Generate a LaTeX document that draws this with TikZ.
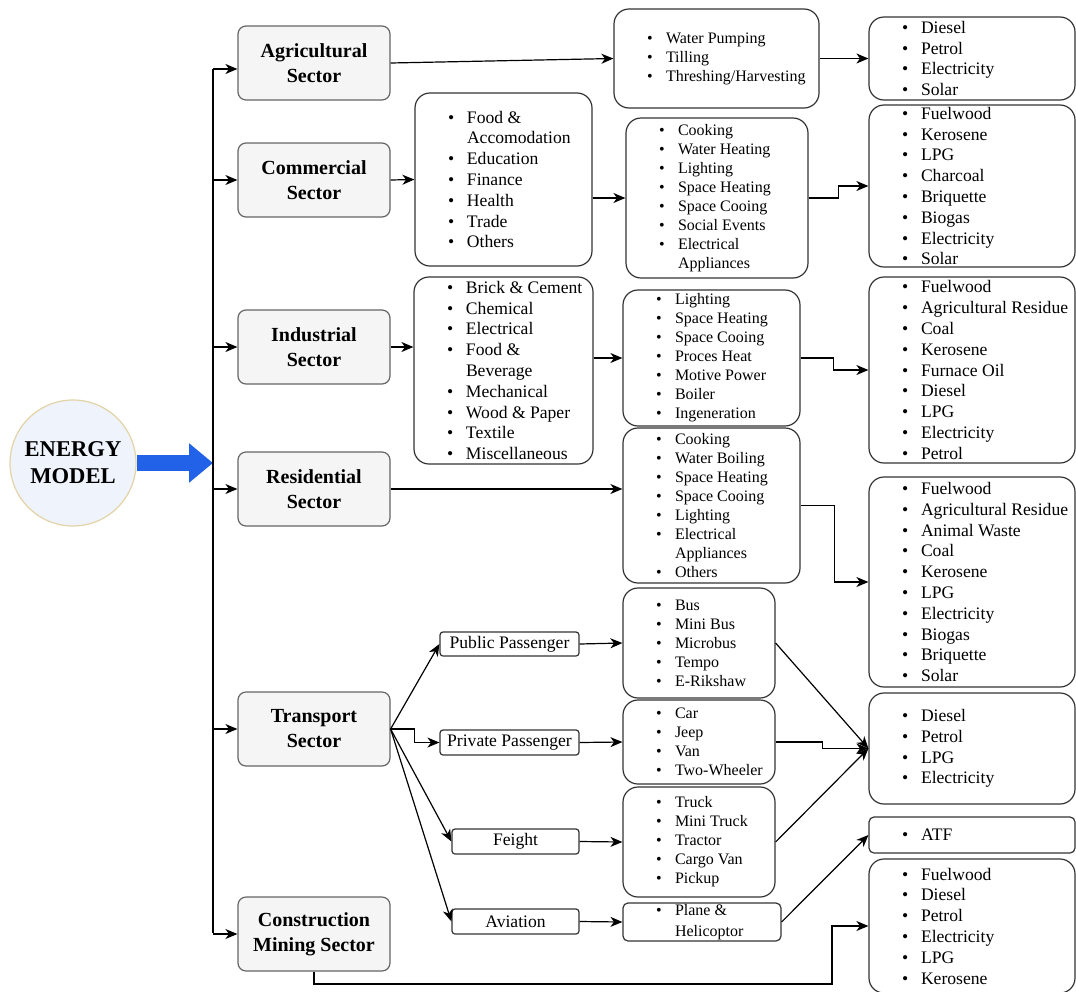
\documentclass[tikz,border=0pt]{standalone}
\usepackage{fontspec}
\setmainfont{Liberation Serif}
\usepackage{xcolor}
\usetikzlibrary{arrows.meta,positioning}
\definecolor{secfill}{HTML}{F5F5F5}
\definecolor{secline}{HTML}{666666}
\definecolor{modfill}{HTML}{EEF3FC}
\definecolor{modline}{HTML}{E3D3A6}
\definecolor{bigblue}{HTML}{2262E8}
\newcommand{\itm}{\makebox[9.5pt][l]{\textbullet}}
\newcommand{\itn}{\hspace*{9.5pt}}

\begin{document}
\begin{tikzpicture}[
				x=0.5pt, y=-0.5pt,
				line width=0.6pt,
				node distance=16.5pt,
				arrow/.style={-{Stealth[length=6pt, width=5pt, inset=1.8pt]}},
				sector/.style={draw=secline, fill=secfill, rounded corners=4pt, minimum width=76pt, minimum height=37pt, align=center, font=\fontsize{10}{12.5}\selectfont\bfseries},
				listbox/.style={draw=black!80, rounded corners=7.5pt},
				smallbox/.style={draw=black!80, rounded corners=2.5pt},
				listtext/.style={inner sep=0pt, align=left, font=\fontsize{8}{9.5}\selectfont},
				widetext/.style={inner sep=0pt, align=left, font=\fontsize{8.8}{10.4}\selectfont},
				labelbox/.style={draw=black!80, rounded corners=1.5pt, inner sep=0pt, font=\fontsize{8.8}{10}\selectfont}
				]
				
				\useasboundingbox (0,0) rectangle (1076,991);
				
				\node[circle, draw=modline, fill=modfill, minimum size=63pt, align=center, font=\fontsize{11.3}{13.5}\selectfont\bfseries] (em) at (73,463) {ENERGY\\MODEL};
				
				\node[sector] (agr) at (314,63) {Agricultural\\Sector};
				\node[sector] (com) at (314,180) {Commercial\\Sector};
				\node[sector] (ind) at (314,347) {Industrial\\Sector};
				\node[sector] (res) at (314,489) {Residential\\Sector};
				\node[sector] (tra) at (314,729) {Transport\\Sector};
				\node[sector] (con) at (314,934) {Construction\\Mining Sector};
				
				\node[listbox, minimum width=88.5pt, minimum height=86.5pt] (csub) at (503.5,179.5) {};
				\node[widetext, right=of csub.west] (csubt) {\itm Food \&\\\itn Accomodation\\\itm Education\\\itm Finance\\\itm Health\\\itm Trade\\\itm Others};
				\node[listbox, minimum width=89.5pt, minimum height=93.5pt] (isub) at (503.5,370.5) {};
				\node[widetext, right=of isub.west] (isubt) {\itm Brick \& Cement\\\itm Chemical\\\itm Electrical\\\itm Food \&\\\itn Beverage\\\itm Mechanical\\\itm Wood \& Paper\\\itm Textile\\\itm Miscellaneous};
				
				\node[listbox, minimum width=102.5pt, minimum height=49.5pt] (aeu) at (716.5,58.5) {};
				\node[listtext, right=of aeu.west] (aeut) {\itm Water Pumping\\\itm Tilling\\\itm Threshing/Harvesting};
				\node[listbox, minimum width=91pt, minimum height=80pt] (ceu) at (717,198) {};
				\node[listtext, right=of ceu.west] (ceut) {\itm Cooking\\\itm Water Heating\\\itm Lighting\\\itm Space Heating\\\itm Space Cooing\\\itm Social Events\\\itm Electrical\\\itn Appliances};
				\node[listbox, minimum width=88.5pt, minimum height=68pt] (ieu) at (711.5,358) {};
				\node[listtext, right=of ieu.west] (ieut) {\itm Lighting\\\itm Space Heating\\\itm Space Cooing\\\itm Proces Heat\\\itm Motive Power\\\itm Boiler\\\itm Ingeneration};
				\node[listbox, minimum width=88.5pt, minimum height=77.5pt] (reu) at (711.5,505.5) {};
				\node[listtext, right=of reu.west] (reut) {\itm Cooking\\\itm Water Boiling\\\itm Space Heating\\\itm Space Cooing\\\itm Lighting\\\itm Electrical\\\itn Appliances\\\itm Others};
				
				\node[labelbox, minimum width=69.5pt, minimum height=12pt] (pub) at (509.5,644) {Public Passenger};
				\node[labelbox, minimum width=69.5pt, minimum height=12.5pt] (pri) at (509.5,742.5) {Private Passenger};
				\node[labelbox, minimum width=63.5pt, minimum height=12.5pt] (fre) at (515.5,841.5) {Feight};
				\node[labelbox, minimum width=63.5pt, minimum height=12.5pt] (avi) at (515.5,921.5) {Aviation};
				
				\node[listbox, minimum width=76pt, minimum height=55pt] (pveh) at (699,643) {};
				\node[listtext, right=of pveh.west] (pveht) {\itm Bus\\\itm Mini Bus\\\itm Microbus\\\itm Tempo\\\itm E-Rikshaw};
				\node[listbox, minimum width=76pt, minimum height=42pt] (prveh) at (699,742) {};
				\node[listtext, right=of prveh.west] (prveht) {\itm Car\\\itm Jeep\\\itm Van\\\itm Two-Wheeler};
				\node[listbox, minimum width=76pt, minimum height=55pt] (fveh) at (699,842) {};
				\node[listtext, right=of fveh.west] (fveht) {\itm Truck\\\itm Mini Truck\\\itm Tractor\\\itm Cargo Van\\\itm Pickup};
				\node[smallbox, minimum width=79pt, minimum height=19pt] (aveh) at (702,922) {};
				\node[widetext, font=\fontsize{8}{10.5}\selectfont, right=of aveh.west] (aveht) {\itm Plane \&\\\itn Helicoptor};
				
				\node[listbox, minimum width=103pt, minimum height=41.5pt] (afu) at (972,58.5) {};
				\node[widetext, right=of afu.west] (afut) {\itm Diesel\\\itm Petrol\\\itm Electricity\\\itm Solar};
				\node[listbox, minimum width=103pt, minimum height=81pt] (cfu) at (972,186) {};
				\node[widetext, right=of cfu.west] (cfut) {\itm Fuelwood\\\itm Kerosene\\\itm LPG\\\itm Charcoal\\\itm Briquette\\\itm Biogas\\\itm Electricity\\\itm Solar};
				\node[listbox, minimum width=103pt, minimum height=93pt] (ifu) at (972,370) {};
				\node[widetext, right=of ifu.west] (ifut) {\itm Fuelwood\\\itm Agricultural Residue\\\itm Coal\\\itm Kerosene\\\itm Furnace Oil\\\itm Diesel\\\itm LPG\\\itm Electricity\\\itm Petrol};
				\node[listbox, minimum width=103pt, minimum height=105pt] (rfu) at (972,582) {};
				\node[widetext, right=of rfu.west] (rfut) {\itm Fuelwood\\\itm Agricultural Residue\\\itm Animal Waste\\\itm Coal\\\itm Kerosene\\\itm LPG\\\itm Electricity\\\itm Biogas\\\itm Briquette\\\itm Solar};
				\node[listbox, minimum width=103pt, minimum height=55.5pt] (tfu) at (972,748.5) {};
				\node[widetext, right=of tfu.west] (tfut) {\itm Diesel\\\itm Petrol\\\itm LPG\\\itm Electricity};
				\node[smallbox, minimum width=103pt, minimum height=18pt] (atf) at (972,835) {};
				\node[widetext, right=of atf.west] (atft) {\itm ATF};
				\node[listbox, minimum width=103pt, minimum height=67pt] (kfu) at (972,926) {};
				\node[widetext, right=of kfu.west] (kfut) {\itm Fuelwood\\\itm Diesel\\\itm Petrol\\\itm Electricity\\\itm LPG\\\itm Kerosene};
				
				\coordinate (bt) at (213,69);
				\coordinate (bb) at (213,933);
				\coordinate (kb) at (832,984);
				
				\draw[-{Triangle[length=12pt, width=19pt]}, line width=8pt, bigblue] (em.east) -- (bt |- em.east);
				\draw (bt) -- (bb);
				\draw[arrow] (bt) -- (bt -| agr.west);
				\foreach \s in {com, ind, res, tra, con}
					\draw[arrow] (\s.west -| bt) -- (\s.west);
				
				\draw[arrow] (agr.east) -- (aeu.west);
				\draw[arrow] (aeu.east) -- (afu.west);
				\draw[arrow] (com.east) -- (csub.west);
				\draw[arrow] (csub.east |- ceu.west) -- (ceu.west);
				\draw[arrow] (ceu.east) -- ++(30,0) |- (cfu.west);
				\draw[arrow] (ind.east) -- (ind.east -| isub.west);
				\draw[arrow] (isub.east |- ieu.west) -- (ieu.west);
				\draw[arrow] (ieu.east) -- ++(33,0) |- (ifu.west);
				\draw[arrow] (res.east) -- (res.east -| reu.west);
				\draw[arrow] (reu.east) -- ++(34,0) |- (rfu.west);
				
				\draw[arrow] (tra.east) -- (pub.west);
				\draw[arrow] (tra.east) -- ++(24,0) |- (pri.west);
				\draw[arrow] (tra.east) -- (fre.west);
				\draw[arrow] (tra.east) -- (avi.west);
				\foreach \a/\b in {pub/pveh, pri/prveh, fre/fveh, avi/aveh}
					\draw[arrow] (\a.east) -- (\b.west);
				\draw[arrow] (pveh.east) -- (tfu.west);
				\draw[arrow] (prveh.east) -- ++(47,0) |- (tfu.west);
				\draw[arrow] (fveh.east) -- (tfu.west);
				\draw[arrow] (aveh.east) -- (atf.west);
				\draw[arrow] (con.south) |- (kb) |- (kfu.west);
			\end{tikzpicture}
\end{document}
